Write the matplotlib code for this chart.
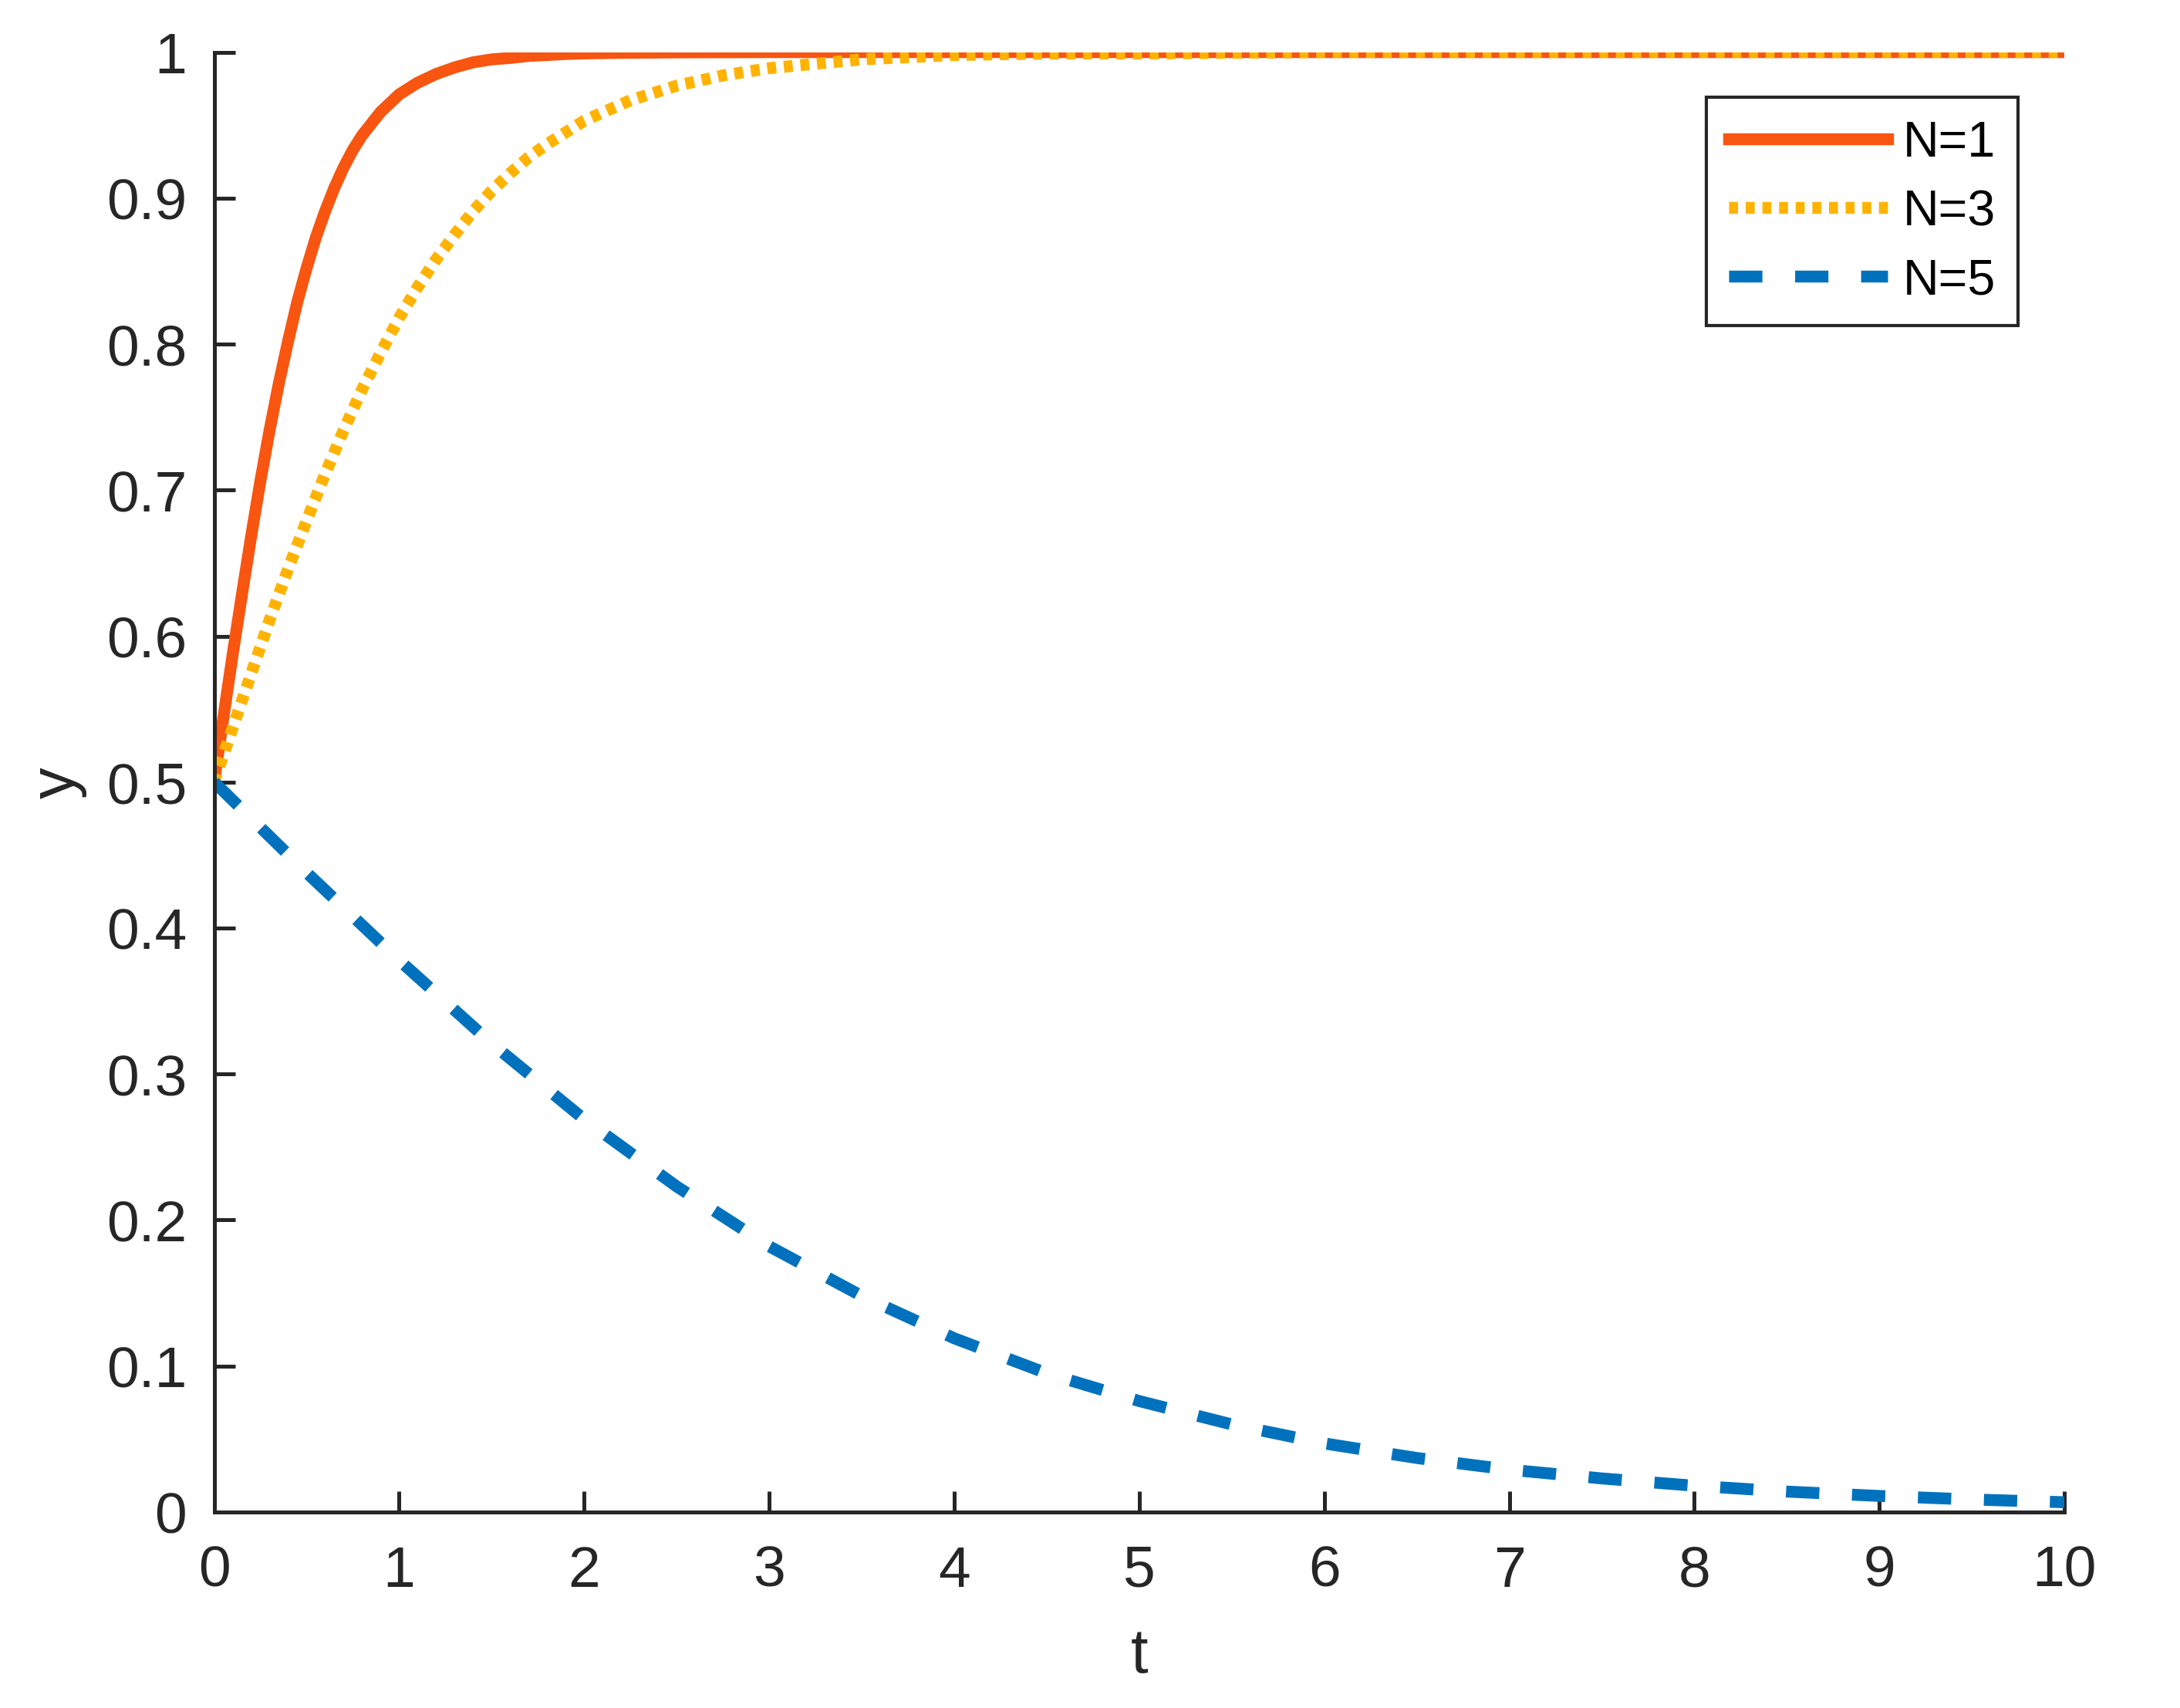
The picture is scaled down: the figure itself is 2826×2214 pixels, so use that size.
import matplotlib
matplotlib.use("Agg")
import matplotlib.pyplot as plt

plt.rcParams['font.family'] = ['Liberation Sans', 'DejaVu Sans']

# values
t1 = [0, 0.05, 0.1, 0.15, 0.2, 0.25, 0.3, 0.35, 0.4, 0.45, 0.5, 0.55, 0.6, 0.65, 0.7, 0.75, 0.8, 0.85, 0.9, 0.95,
      1.0, 1.1, 1.2, 1.3, 1.4, 1.5, 1.6, 1.7, 1.8, 1.9, 2.0, 2.2, 2.5, 3, 4, 5, 6, 7, 8, 9, 10]
y1 = [0.5, 0.544, 0.587, 0.628, 0.668, 0.706, 0.741, 0.773, 0.802, 0.829, 0.852, 0.873, 0.891, 0.907, 0.921, 0.933,
      0.943, 0.951, 0.959, 0.965, 0.971, 0.979, 0.985, 0.9895, 0.993, 0.995, 0.996, 0.9974, 0.998, 0.9987, 0.9991,
      0.9995, 0.9998, 1.0, 1.0, 1.0, 1.0, 1.0, 1.0, 1.0, 1.0]

t3 = [0, 0.1, 0.2, 0.3, 0.4, 0.5, 0.6, 0.7, 0.8, 0.9, 1.0, 1.1, 1.2, 1.3, 1.4, 1.5, 1.6, 1.7, 1.8, 1.9, 2.0, 2.25,
      2.5, 2.75, 3.0, 3.5, 4.0, 4.5, 5, 6, 7, 8, 9, 10]
y3 = [0.5, 0.537, 0.574, 0.611, 0.646, 0.679, 0.711, 0.741, 0.769, 0.794, 0.818, 0.839, 0.858, 0.875, 0.891, 0.905,
      0.917, 0.928, 0.937, 0.945, 0.953, 0.967, 0.977, 0.984, 0.989, 0.995, 0.998, 0.999, 0.999, 1.0, 1.0, 1.0, 1.0,
      1.0]

t5 = [0, 0.5, 1, 1.5, 2, 2.5, 3, 3.5, 4, 4.5, 5, 5.5, 6, 6.5, 7, 7.5, 8, 8.5, 9, 9.5, 10]
y5 = [0.5, 0.438, 0.378, 0.321, 0.269, 0.223, 0.182, 0.148, 0.119, 0.095, 0.076, 0.060, 0.047, 0.037, 0.029, 0.023,
      0.018, 0.014, 0.011, 0.0086, 0.0067]

labels = ['N=1', 'N=3', 'N=5']
xticks = list(range(0, 11))
yticks = [0, 0.1, 0.2, 0.3, 0.4, 0.5, 0.6, 0.7, 0.8, 0.9, 1]
yticklabels = ['0', '0.1', '0.2', '0.3', '0.4', '0.5', '0.6', '0.7', '0.8', '0.9', '1']

dark = '#262626'
lw = 3.7

fig = plt.figure(figsize=(9.42, 7.383), dpi=300)
ax = fig.add_axes([0.0982, 0.1147, 0.8488, 0.8544])

ax.plot(t1, y1, color='#F85510', lw=lw, label=labels[0])
ax.plot(t3, y3, color='#FFB300', lw=lw, dashes=(0.75, 0.65), label=labels[1])
ax.plot(t5, y5, color='#0072BD', lw=lw, dashes=(2.8, 2.75), label=labels[2])

ax.set_xlim(0, 10)
ax.set_ylim(0, 1)
ax.set_xticks(xticks)
ax.set_yticks(yticks)
ax.set_yticklabels(yticklabels)

for s in ['top', 'right']:
    ax.spines[s].set_visible(False)
for s in ['left', 'bottom']:
    ax.spines[s].set_color(dark)
    ax.spines[s].set_linewidth(1.2)

ax.tick_params(direction='in', length=6.5, width=1.2, color=dark, labelcolor=dark, labelsize=18)
ax.tick_params(axis='y', pad=8.5)
ax.tick_params(axis='x', pad=10)

ax.set_xlabel('t', fontsize=19.5, color=dark, labelpad=9)
ax.set_ylabel('y', fontsize=19.5, color=dark, labelpad=6)

leg = ax.legend(loc='upper right', bbox_to_anchor=(0.975, 0.969), borderaxespad=0, fontsize=15.5,
                fancybox=False, handlelength=3.2, handletextpad=0.3, labelspacing=0.45,
                borderpad=0.45, framealpha=1)
leg.get_frame().set_edgecolor(dark)
leg.get_frame().set_linewidth(1.0)
for txt in leg.get_texts():
    txt.set_color('black')

fig.savefig('out.png', dpi=300)
